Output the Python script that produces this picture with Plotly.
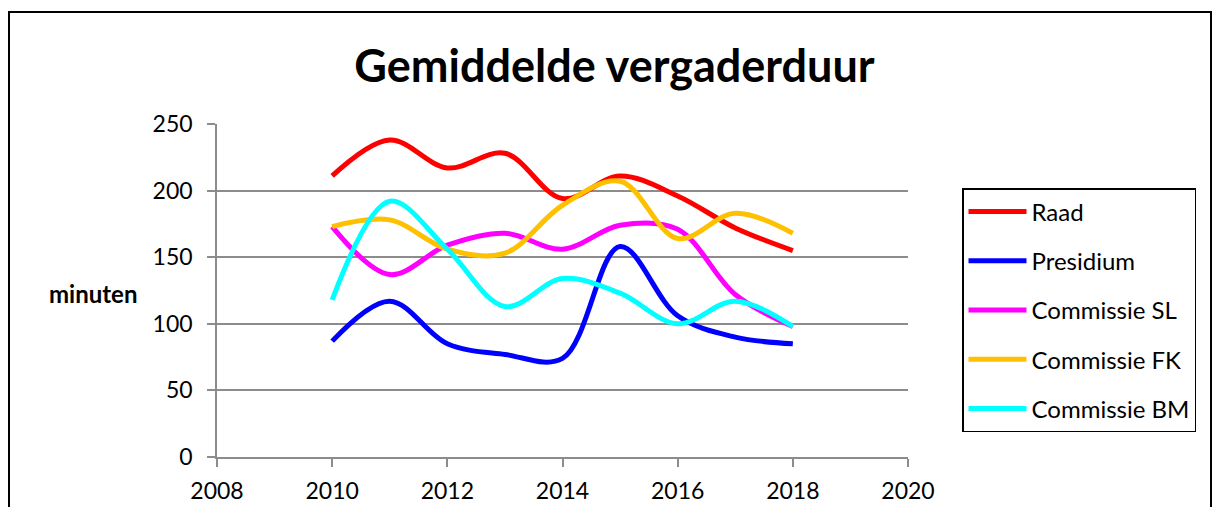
import plotly.graph_objects as go

years = [2010, 2011, 2012, 2013, 2014, 2015, 2016, 2017, 2018]
raad = [211, 238, 217, 228, 194, 211, 196, 172, 155]
presidium = [87, 117, 85, 77, 74, 158, 106, 90, 85]
commissie_sl = [173, 137, 159, 168, 156, 174, 171, 122, 98]
commissie_fk = [173, 178, 156, 153, 189, 207, 164, 183, 168]
commissie_bm = [118, 192, 156, 113, 134, 123, 100, 117, 98]

series = [
    ("Raad", raad, "#FF0000"),
    ("Presidium", presidium, "#0000FF"),
    ("Commissie SL", commissie_sl, "#FF00FF"),
    ("Commissie FK", commissie_fk, "#FFC000"),
    ("Commissie BM", commissie_bm, "#00FFFF"),
]

# page body has an 8px margin; keep the figure inside the window (no scrollbars)
OFF = 8
W, H = 1221 - 2 * OFF, 515 - 2 * OFF
L, R, T = 217 - OFF, (1221 - OFF) - 908, 124 - OFF
B = (H + OFF) - 457
PW, PH = W - L - R, H - T - B
FONT = "Lato, 'Open Sans', sans-serif"

fig = go.Figure()
for name, vals, col in series:
    fig.add_trace(go.Scatter(
        x=years, y=vals, name=name, mode="lines",
        line=dict(color=col, width=5, shape="spline", smoothing=1),
        legendgroup=name,
    ))

def px_x(p):  # screen px -> paper
    return (p - OFF - L) / PW

def px_y(p):
    return (H - B - (p - OFF)) / PH

fig.update_layout(
    width=W, height=H,
    margin=dict(l=L, r=R, t=T, b=B, autoexpand=False),
    paper_bgcolor="white", plot_bgcolor="white",
    font=dict(family=FONT, color="black"),
    title=dict(text="<b>Gemiddelde vergaderduur</b>", xref="container", yref="container",
               x=(614.5 - OFF) / W, xanchor="center", y=1 - (66 - OFF) / H, yanchor="middle",
               font=dict(size=45, family=FONT, color="black")),
    xaxis=dict(range=[2008, 2020], tickmode="array", tickvals=[2008, 2010, 2012, 2014, 2016, 2018, 2020],
               ticks="outside", ticklen=8, tickcolor="#8c8c8c", tickwidth=1.5, automargin=False,
               showline=True, linecolor="#8c8c8c", linewidth=1.5, showgrid=False, zeroline=False,
               tickfont=dict(size=23, family=FONT), ticklabelstandoff=5),
    yaxis=dict(range=[0, 250], tickmode="array", tickvals=[0, 50, 100, 150, 200, 250],
               ticks="outside", ticklen=8, tickcolor="#8c8c8c", tickwidth=1.5, automargin=False,
               showline=True, linecolor="#8c8c8c", linewidth=1.5,
               showgrid=True, gridcolor="#8c8c8c", gridwidth=1.5, zeroline=False,
               tickfont=dict(size=23, family=FONT), ticklabelstandoff=10),
    legend=dict(xref="container", yref="container", x=(962 - OFF) / W, xanchor="left",
                y=1 - (188 - OFF) / H, yanchor="top", bordercolor="black", borderwidth=1.5,
                bgcolor="white", font=dict(size=24, family=FONT), tracegroupgap=15,
                itemwidth=58),
    showlegend=True,
)

fig.add_annotation(text="<b>minuten</b>", xref="paper", yref="paper",
                   x=px_x(93), y=px_y(293), xanchor="center", yanchor="middle", showarrow=False,
                   font=dict(size=24, family=FONT, color="black"))

fig.add_shape(type="rect", xref="paper", yref="paper",
              x0=px_x(9), x1=px_x(1211), y0=px_y(540), y1=px_y(12),
              line=dict(color="black", width=2), layer="below")

fig.write_html("out.html")
